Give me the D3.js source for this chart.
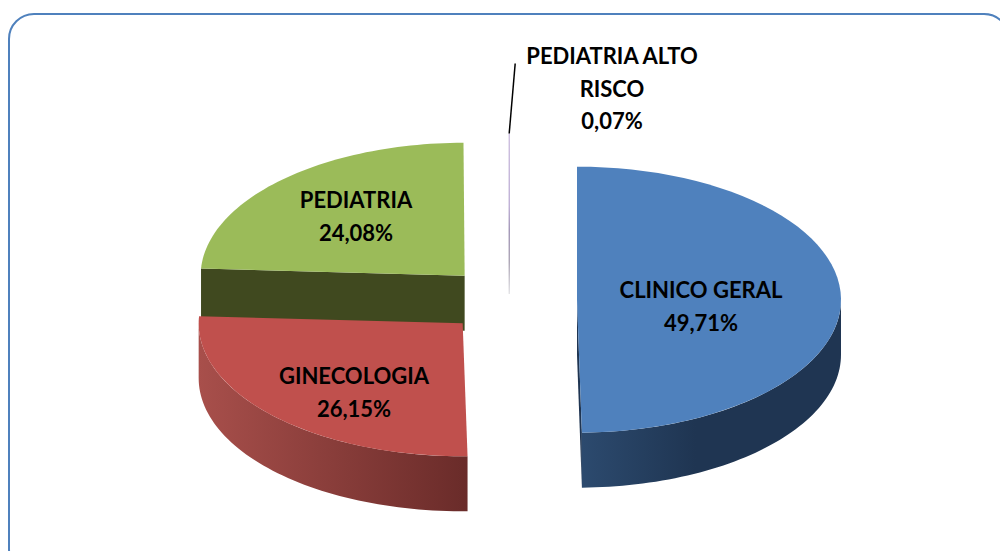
<!DOCTYPE html>
<html>
<head>
<meta charset="utf-8">
<script src="https://cdn.jsdelivr.net/npm/d3@7"></script>
<style>
  html, body { margin: 0; padding: 0; background: #fff; overflow: hidden; }
  text { font-family: Lato, "Open Sans", sans-serif; font-weight: 700; font-size: 22px; fill: #000; text-anchor: middle; }
</style>
</head>
<body>
<svg id="chart" width="1000" height="551"></svg>
<script>
const categories = ['CLINICO GERAL', 'GINECOLOGIA', 'PEDIATRIA', 'PEDIATRIA ALTO RISCO'];
const values = [49.71, 26.15, 24.08, 0.07];
const valueLabels = ['49,71%', '26,15%', '24,08%', '0,07%'];
const topColors = ['#4f81bd', '#c0504d', '#9bbb59', '#8064a2'];
const wallColors = [['#2c4a6e', '#1f3552'], ['#a84f4b', '#692b29'], ['#40491f', '#40491f'], ['#8064a2', '#8064a2']];

const width = 1000, height = 551;
const cx = 510.5, cy = 300, rx = 264, ry = 133, depth = 55, explode = 66.5;

const svg = d3.select('#chart');
const defs = svg.append('defs');

svg.append('rect')
    .attr('x', 9).attr('y', 14)
    .attr('width', 1000).attr('height', 560)
    .attr('rx', 25).attr('ry', 25)
    .attr('fill', '#fff')
    .attr('stroke', '#4f81bd')
    .attr('stroke-width', 2);

// pie angles, then squashed onto an ellipse for the 3d look
const arcs = d3.pie().sort(null).value(d => d)(values);

arcs.forEach(a => {
    const mid = (a.startAngle + a.endAngle) / 2;
    a.ox = cx + explode * Math.sin(mid);
    a.oy = cy - explode * Math.cos(mid) * ry / rx;
});

const px = (a, t) => a.ox + rx * Math.sin(t);
const py = (a, t) => a.oy - ry * Math.cos(t);
const line = d3.line();
const sweep = (from, to) => d3.range(0, 61).map(i => from + (to - from) * i / 60);

function topPath(a) {
    const pts = sweep(a.startAngle, a.endAngle).map(t => [px(a, t), py(a, t)]);
    return line([[a.ox, a.oy], ...pts]) + 'Z';
}

// outer wall, only the part of the rim facing the viewer
function wallPath(a) {
    const from = Math.max(a.startAngle, Math.PI / 2);
    const to = Math.min(a.endAngle, Math.PI * 1.5);
    const pts = sweep(from, to);
    const upper = pts.map(t => [px(a, t), py(a, t)]);
    const lower = pts.slice().reverse().map(t => [px(a, t), py(a, t) + depth]);
    return line([...upper, ...lower]) + 'Z';
}

// cut face going from the apex to the rim at angle t
function cutPath(a, t) {
    return line([
        [a.ox, a.oy], [px(a, t), py(a, t)],
        [px(a, t), py(a, t) + depth], [a.ox, a.oy + depth]
    ]) + 'Z';
}

function wallGradient(i, a) {
    const g = defs.append('linearGradient')
        .attr('id', 'wall' + i)
        .attr('gradientUnits', 'userSpaceOnUse')
        .attr('x1', i === 0 ? a.ox + rx * 0.02 : a.ox - rx)
        .attr('x2', i === 0 ? a.ox + rx * 0.45 : a.ox + rx * 0.03)
        .attr('y1', 0).attr('y2', 0);
    g.append('stop').attr('offset', 0).attr('stop-color', wallColors[i][0]);
    g.append('stop').attr('offset', 1).attr('stop-color', wallColors[i][1]);
}
arcs.forEach((a, i) => wallGradient(i, a));

// back to front: pediatria, alto risco, ginecologia, clinico
const pie = svg.append('g');

const ped = arcs[2];
pie.append('path').attr('d', cutPath(ped, ped.startAngle)).attr('fill', '#40491f');
pie.append('path').attr('d', topPath(ped)).attr('fill', topColors[2]);

const gin = arcs[1];
pie.append('path').attr('d', wallPath(gin)).attr('fill', 'url(#wall1)');
pie.append('path').attr('d', topPath(gin)).attr('fill', topColors[1]);

const cli = arcs[0];
pie.append('path').attr('d', cutPath(cli, cli.endAngle)).attr('fill', '#1f3552');
pie.append('path').attr('d', wallPath(cli)).attr('fill', 'url(#wall0)');
pie.append('path').attr('d', topPath(cli)).attr('fill', topColors[0]);

// the 0,07% sliver is barely a pixel wide so it gets a thin stroke with a fade
const alto = arcs[3];
const slv = defs.append('linearGradient')
    .attr('id', 'sliver')
    .attr('gradientUnits', 'userSpaceOnUse')
    .attr('x1', 0).attr('x2', 0)
    .attr('y1', py(alto, alto.startAngle)).attr('y2', alto.oy + depth * 0.5);
slv.append('stop').attr('offset', 0).attr('stop-color', '#b9a5d2');
slv.append('stop').attr('offset', 0.45).attr('stop-color', '#a48fc4');
slv.append('stop').attr('offset', 0.6).attr('stop-color', '#7b6a99');
slv.append('stop').attr('offset', 0.8).attr('stop-color', '#8a8096');
slv.append('stop').attr('offset', 1).attr('stop-color', '#d8d8dc');
const sliverTop = py(alto, alto.startAngle);
const sliverX = px(alto, alto.startAngle);
pie.append('line')
    .attr('x1', sliverX).attr('x2', sliverX + 0.01)
    .attr('y1', sliverTop).attr('y2', alto.oy + depth * 0.5)
    .attr('stroke', 'url(#sliver)').attr('stroke-width', 1);

// leader line for the small slice
svg.append('line')
    .attr('x1', sliverX).attr('y1', sliverTop)
    .attr('x2', sliverX + 6).attr('y2', sliverTop - 70)
    .attr('stroke', '#000').attr('stroke-width', 1.5);

const labels = [
    { lines: [categories[0], valueLabels[0]], x: 701, y: 298 },
    { lines: [categories[1], valueLabels[1]], x: 354, y: 384 },
    { lines: [categories[2], valueLabels[2]], x: 356, y: 208 },
    { lines: ['PEDIATRIA ALTO', 'RISCO', valueLabels[3]], x: 612, y: 64 }
];

labels.forEach(l => {
    const t = svg.append('text').attr('x', l.x).attr('y', l.y);
    l.lines.forEach((s, i) => {
        t.append('tspan').attr('x', l.x).attr('dy', i ? 32.5 : 0).text(s);
    });
});
</script>
</body>
</html>
